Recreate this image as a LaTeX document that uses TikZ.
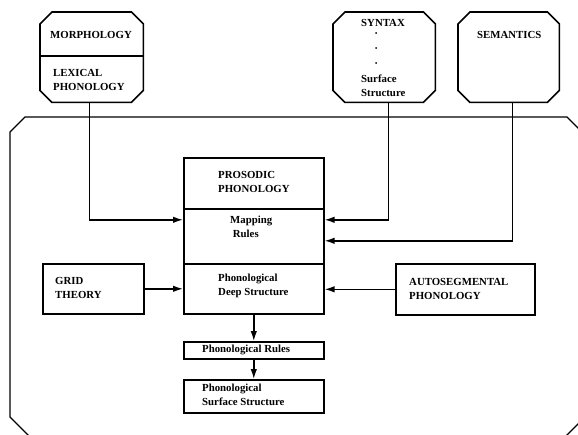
\documentclass[tikz,border=0pt]{standalone}
\usepackage{fontspec}
\setmainfont{Liberation Serif}
\usetikzlibrary{arrows.meta}
\tikzset{
  lbl/.style={font=\bfseries\fontsize{10.8}{14}\selectfont, align=left, inner sep=0, anchor=west},
  boxn/.style={draw, line width=1.6pt, inner sep=0, anchor=north west},
  chbox/.style={inner sep=0, anchor=north west},
  arr/.style={line width=1.4pt, -{Latex[length=10pt,width=6.5pt]}},
  frame/.style={line width=1.3pt},
}
\newcommand\chamfbox[1]{%
  \draw[line width=1.6pt] ([xshift=12pt]#1.north west) -- ([xshift=-12pt]#1.north east)
    -- ([yshift=-12pt]#1.north east) -- ([yshift=12pt]#1.south east)
    -- ([xshift=-12pt]#1.south east) -- ([xshift=12pt]#1.south west)
    -- ([yshift=12pt]#1.south west) -- ([yshift=-12pt]#1.north west) -- cycle;}
\begin{document}
\begin{tikzpicture}[x=1pt,y=-1pt]
\useasboundingbox (0,0) rectangle (578,434);
\clip (0,0) rectangle (578,434);
% outer frame
\draw[frame] (25,117) -- (567,117) -- (581,131) -- (581,421) -- (563,439) -- (32,439) -- (10,417) -- (10,132) -- cycle;
% top chamfered boxes
\node[chbox, minimum width=103pt, minimum height=90pt] (morph) at (40,12) {};
\node[chbox, minimum width=102pt, minimum height=90pt] (syn) at (333,12) {};
\node[chbox, minimum width=101pt, minimum height=90pt] (sem) at (458,12) {};
\chamfbox{morph}\chamfbox{syn}\chamfbox{sem}
\draw[line width=1.6pt] (morph.west |- 0,56) coordinate (mdl) -- (morph.east |- 0,56) coordinate (mdr);
\node[lbl] (tmorph) at (50,35) {MORPHOLOGY};
\node[lbl] (tlex) at (53,80) {LEXICAL\\PHONOLOGY};
\node[lbl] (tsyn) at (361,23) {SYNTAX};
\fill (376,33) circle (1) (376,48) circle (1) (376,63) circle (1);
\node[lbl] (tsurf) at (361,86) {Surface\\Structure};
\node[lbl] (tsem) at (477,35) {SEMANTICS};
% central column
\node[boxn, minimum width=140pt, minimum height=51pt] (pros) at (183,157) {};
\node[boxn, minimum width=140pt, minimum height=55pt] (map) at (183,208) {};
\node[boxn, minimum width=140pt, minimum height=50pt] (ds) at (183,263) {};
\node[boxn, minimum width=140pt, minimum height=17pt] (rules) at (183,341) {};
\node[boxn, minimum width=140pt, minimum height=33pt] (surf) at (183,379) {};
\node[lbl] (tpros) at (218,182) {PROSODIC\\PHONOLOGY};
\node[lbl] (tmap) at (230,227) {Mapping\\\ Rules};
\node[lbl] (tds) at (218,285.5) {Phonological\\Deep Structure};
\node[lbl] (trules) at (202,349.5) {Phonological Rules};
\node[lbl] (tsurfs) at (202,395) {Phonological\\Surface Structure};
% side boxes
\node[boxn, minimum width=101pt, minimum height=50pt] (grid) at (42,263) {};
\node[boxn, minimum width=139pt, minimum height=51pt] (auto) at (395,263) {};
\node[lbl] (tgrid) at (55,288) {GRID\\THEORY};
\node[lbl] (tauto) at (409,289) {AUTOSEGMENTAL\\PHONOLOGY};
% connectors
\draw[arr] ([xshift=-2.5pt]morph.south) |- ([yshift=16.5pt]map.west);
\draw[arr] ([xshift=4pt]syn.south) |- ([yshift=16.5pt]map.east);
\draw[arr] ([xshift=3.5pt]sem.south) |- ([yshift=-4.5pt]map.east);
\draw[arr] (grid.east) -- (grid.east -| ds.west);
\draw[arr] (auto.west) -- (auto.west -| ds.east);
\draw[arr] (ds.south) -- (rules.north);
\draw[arr] (rules.south) -- (surf.north);
\end{tikzpicture}
\end{document}
